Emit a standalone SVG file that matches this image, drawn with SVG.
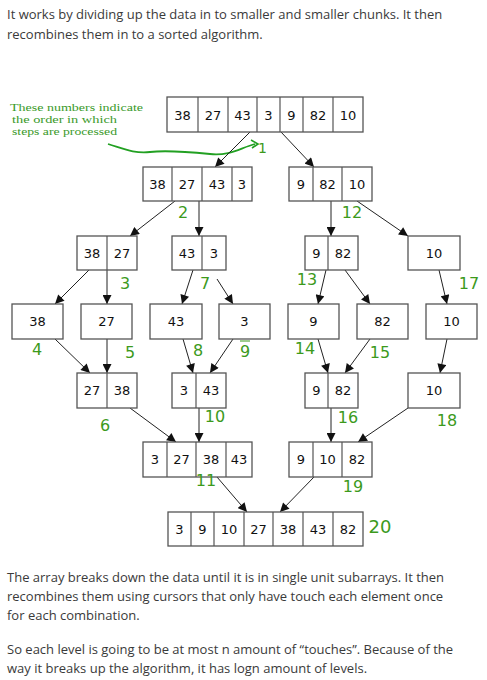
<svg xmlns="http://www.w3.org/2000/svg" width="487" height="680" viewBox="0 0 487 680">
<defs>
<marker id="ah" viewBox="0 0 10 10" refX="10" refY="5" markerWidth="10" markerHeight="9" markerUnits="userSpaceOnUse" orient="auto">
<path d="M0,0 L10,5 L0,10 z" fill="#111"/>
</marker>
</defs>
<style>
.body{font-family:"Open Sans","Liberation Sans",sans-serif;font-size:13px;fill:#3a3a3a}
.note{font-family:"Liberation Serif","DejaVu Serif",serif;font-size:11px;fill:#3a9a2a}
.box{fill:#fff;stroke:#555;stroke-width:1.3}
.sep{stroke:#555;stroke-width:1.2}
.v{font-family:"DejaVu Sans","Liberation Sans",sans-serif;font-size:13px;fill:#111;text-anchor:middle;dominant-baseline:central}
.g{font-family:"DejaVu Sans","Liberation Sans",sans-serif;font-size:16px;fill:#3c9a1c;text-anchor:middle;dominant-baseline:central}
.c line{stroke:#222;stroke-width:1;marker-end:url(#ah)}
</style>
<rect width="487" height="680" fill="#fff"/>
<text class="body" x="7" y="19">It works by dividing up the data in to smaller and smaller chunks. It then</text>
<text class="body" x="7" y="39">recombines them in to a sorted algorithm.</text>

<g id="legend">
<text class="note" x="10" y="111" textLength="133" lengthAdjust="spacingAndGlyphs">These numbers indicate</text>
<text class="note" x="12" y="123" textLength="105" lengthAdjust="spacingAndGlyphs">the order in which</text>
<text class="note" x="12" y="135" textLength="105" lengthAdjust="spacingAndGlyphs">steps are processed</text>
<path d="M108,144 C122,148 134,154 150,152 S190,152 210,154 S240,148 255,144" fill="none" stroke="#22a022" stroke-width="1.8"/>
<path d="M251,140 L258,144 L252,148" fill="none" stroke="#22a022" stroke-width="1.6"/>
<text x="258" y="153" font-family="DejaVu Sans,sans-serif" font-size="14" fill="#3c9a1c">1</text>
</g>

<g class="c" id="connectors">
<line x1="250" y1="132" x2="215" y2="167"/>
<line x1="281" y1="132" x2="314" y2="167"/>
<line x1="175" y1="201" x2="130" y2="236"/>
<line x1="199" y1="201" x2="199" y2="236"/>
<line x1="331" y1="201" x2="331" y2="236"/>
<line x1="357" y1="201" x2="408" y2="236"/>
<line x1="89" y1="270" x2="55" y2="304"/>
<line x1="107" y1="270" x2="107" y2="304"/>
<line x1="193" y1="270" x2="182" y2="304"/>
<line x1="217" y1="279" x2="233" y2="304"/>
<line x1="326" y1="270" x2="318" y2="304"/>
<line x1="345" y1="270" x2="370" y2="304"/>
<line x1="439" y1="270" x2="447" y2="304"/>
<line x1="55" y1="339" x2="90" y2="373"/>
<line x1="107" y1="339" x2="107" y2="373"/>
<line x1="183" y1="339" x2="193" y2="373"/>
<line x1="233" y1="339" x2="210" y2="373"/>
<line x1="318" y1="339" x2="328" y2="373"/>
<line x1="370" y1="339" x2="345" y2="373"/>
<line x1="447" y1="339" x2="440" y2="373"/>
<line x1="130" y1="408" x2="176" y2="442"/>
<line x1="199" y1="408" x2="199" y2="442"/>
<line x1="331" y1="408" x2="331" y2="442"/>
<line x1="408" y1="408" x2="358" y2="442"/>
<line x1="217" y1="477" x2="247" y2="512"/>
<line x1="314" y1="477" x2="280" y2="512"/>
</g>

<g id="n0">
<rect class="box" x="167" y="97" width="196" height="35"/>
<path class="sep" d="M198,97V132M228,97V132M257,97V132M280,97V132M303,97V132M333,97V132"/>
<text class="v" x="182.5" y="115">38</text><text class="v" x="213" y="115">27</text><text class="v" x="242.5" y="115">43</text><text class="v" x="268.5" y="115">3</text><text class="v" x="291.5" y="115">9</text><text class="v" x="318" y="115">82</text><text class="v" x="348" y="115">10</text>
</g>
<g id="n1">
<rect class="box" x="143" y="167" width="109" height="34"/>
<path class="sep" d="M172,167V201M202,167V201M232,167V201"/>
<text class="v" x="157.5" y="184">38</text><text class="v" x="187" y="184">27</text><text class="v" x="217" y="184">43</text><text class="v" x="242" y="184">3</text>
</g>
<g id="n2">
<rect class="box" x="289" y="167" width="83" height="34"/>
<path class="sep" d="M313,167V201M342,167V201"/>
<text class="v" x="301" y="184">9</text><text class="v" x="327.5" y="184">82</text><text class="v" x="357" y="184">10</text>
</g>
<g id="n3">
<rect class="box" x="77" y="236" width="60" height="34"/>
<path class="sep" d="M107,236V270"/>
<text class="v" x="92" y="253">38</text><text class="v" x="122" y="253">27</text>
</g>
<g id="n4">
<rect class="box" x="172" y="236" width="54" height="34"/>
<path class="sep" d="M202,236V270"/>
<text class="v" x="187" y="253">43</text><text class="v" x="214" y="253">3</text>
</g>
<g id="n5">
<rect class="box" x="305" y="236" width="53" height="34"/>
<path class="sep" d="M328,236V270"/>
<text class="v" x="316.5" y="253">9</text><text class="v" x="343" y="253">82</text>
</g>
<g id="n6">
<rect class="box" x="408" y="236" width="52" height="34"/>
<text class="v" x="434" y="253">10</text>
</g>
<g id="n7"><rect class="box" x="12" y="304" width="51" height="35"/><text class="v" x="37.5" y="321.5">38</text></g>
<g id="n8"><rect class="box" x="81" y="304" width="51" height="35"/><text class="v" x="106.5" y="321.5">27</text></g>
<g id="n9"><rect class="box" x="150" y="304" width="52" height="35"/><text class="v" x="176" y="321.5">43</text></g>
<g id="n10"><rect class="box" x="219" y="304" width="51" height="35"/><text class="v" x="244.5" y="321.5">3</text></g>
<g id="n11"><rect class="box" x="288" y="304" width="51" height="35"/><text class="v" x="313.5" y="321.5">9</text></g>
<g id="n12"><rect class="box" x="357" y="304" width="51" height="35"/><text class="v" x="382.5" y="321.5">82</text></g>
<g id="n13"><rect class="box" x="426" y="304" width="51" height="35"/><text class="v" x="451.5" y="321.5">10</text></g>
<g id="n14">
<rect class="box" x="77" y="373" width="60" height="35"/>
<path class="sep" d="M107,373V408"/>
<text class="v" x="92" y="390.5">27</text><text class="v" x="122" y="390.5">38</text>
</g>
<g id="n15">
<rect class="box" x="172" y="373" width="54" height="35"/>
<path class="sep" d="M196,373V408"/>
<text class="v" x="184" y="390.5">3</text><text class="v" x="211" y="390.5">43</text>
</g>
<g id="n16">
<rect class="box" x="305" y="373" width="53" height="35"/>
<path class="sep" d="M328,373V408"/>
<text class="v" x="316.5" y="390.5">9</text><text class="v" x="343" y="390.5">82</text>
</g>
<g id="n17"><rect class="box" x="408" y="373" width="52" height="35"/><text class="v" x="434" y="390.5">10</text></g>
<g id="n18">
<rect class="box" x="143" y="442" width="109" height="35"/>
<path class="sep" d="M167,442V477M196,442V477M226,442V477"/>
<text class="v" x="155" y="459.5">3</text><text class="v" x="181.5" y="459.5">27</text><text class="v" x="211" y="459.5">38</text><text class="v" x="239" y="459.5">43</text>
</g>
<g id="n19">
<rect class="box" x="289" y="442" width="83" height="35"/>
<path class="sep" d="M313,442V477M342,442V477"/>
<text class="v" x="301" y="459.5">9</text><text class="v" x="327.5" y="459.5">10</text><text class="v" x="357" y="459.5">82</text>
</g>
<g id="n20">
<rect class="box" x="168" y="512" width="195" height="34"/>
<path class="sep" d="M191,512V546M214,512V546M244,512V546M273,512V546M303,512V546M333,512V546"/>
<text class="v" x="179.5" y="529">3</text><text class="v" x="202.5" y="529">9</text><text class="v" x="229" y="529">10</text><text class="v" x="258.5" y="529">27</text><text class="v" x="288" y="529">38</text><text class="v" x="318" y="529">43</text><text class="v" x="348" y="529">82</text>
</g>

<g id="steps">
<text class="g" x="183" y="212">2</text>
<text class="g" x="352" y="212">12</text>
<text class="g" x="125" y="283">3</text>
<text class="g" x="205" y="283">7</text>
<text class="g" x="307" y="279">13</text>
<text class="g" x="469" y="283">17</text>
<text class="g" x="37" y="349">4</text>
<text class="g" x="130" y="352">5</text>
<text class="g" x="198" y="350">8</text>
<text class="g" x="245" y="351">9</text>
<path d="M240,341H250" stroke="#3c9a1c" stroke-width="1"/>
<text class="g" x="305" y="348">14</text>
<text class="g" x="380" y="352">15</text>
<text class="g" x="105" y="425">6</text>
<text class="g" x="215" y="416">10</text>
<text class="g" x="348" y="417">16</text>
<text class="g" x="447" y="420">18</text>
<text class="g" x="206" y="480">11</text>
<text class="g" x="353" y="486">19</text>
<text class="g" x="380" y="526" style="font-size:18px">20</text>
</g>

<text class="body" x="7" y="582">The array breaks down the data until it is in single unit subarrays. It then</text>
<text class="body" x="7" y="601">recombines them using cursors that only have touch each element once</text>
<text class="body" x="7" y="620">for each combination.</text>
<text class="body" x="7" y="654">So each level is going to be at most n amount of “touches”. Because of the</text>
<text class="body" x="7" y="673">way it breaks up the algorithm, it has logn amount of levels.</text>
</svg>
